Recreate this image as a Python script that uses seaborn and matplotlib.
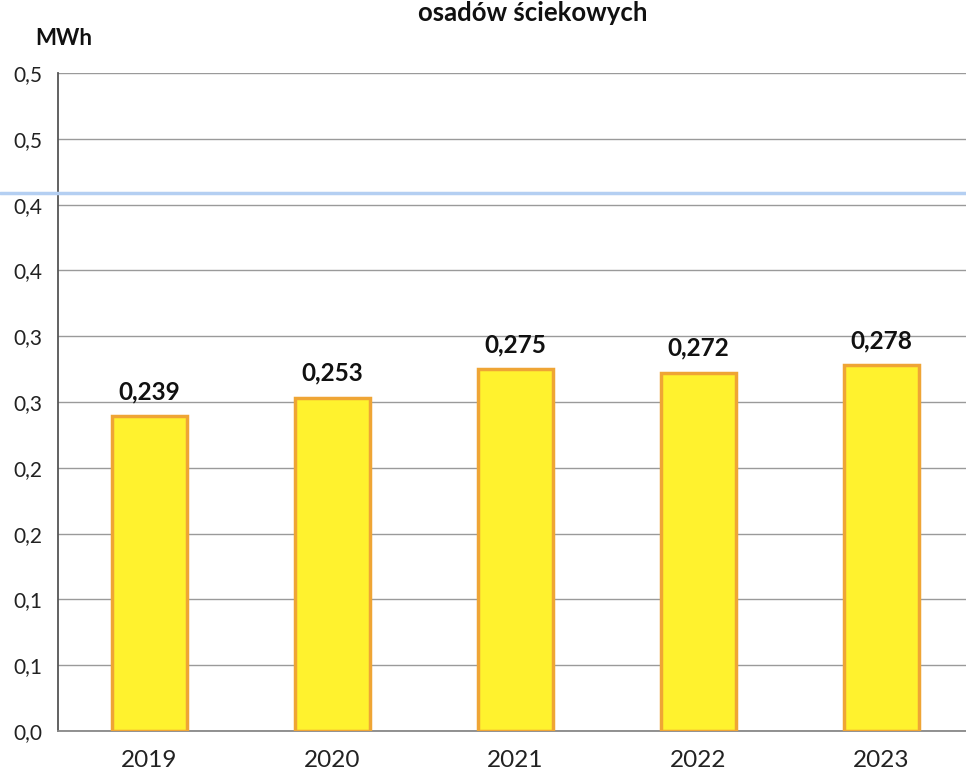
import numpy as np
import pandas as pd
import seaborn as sns
import matplotlib.pyplot as plt
from matplotlib.lines import Line2D

years = ["2019", "2020", "2021", "2022", "2023"]
values = [0.239, 0.253, 0.275, 0.272, 0.278]
value_labels = ["0,239", "0,253", "0,275", "0,272", "0,278"]
ytick_values = [0.0, 0.05, 0.10, 0.15, 0.20, 0.25, 0.30, 0.35, 0.40, 0.45, 0.50]
ytick_labels = ["0,0", "0,1", "0,1", "0,2", "0,2", "0,3", "0,3", "0,4", "0,4", "0,5", "0,5"]
title_text = "osadów ściekowych"
unit_text = "MWh"

sns.set_style("white")
plt.rcParams['font.family'] = ['Lato', 'DejaVu Sans']

df = pd.DataFrame({"year": years, "value": values})

fig = plt.figure(figsize=(9.66, 7.77), dpi=100)
ax = fig.add_axes([58 / 966, 1 - 731 / 777, 915 / 966, (731 - 73) / 777])

sns.barplot(data=df, x="year", y="value", color="#FFF22E", edgecolor="#EFA535",
            linewidth=2.5, width=0.415, saturation=1, ax=ax, zorder=3)

ax.set_xlim(-0.5, 4.5)
ax.set_ylim(0, 0.5)
ax.set_yticks(ytick_values)
ax.set_yticklabels(ytick_labels, fontsize=15, color="#222222")
ax.yaxis.grid(True, color="#9a9a9a", linewidth=1)
ax.set_axisbelow(True)

# category boundaries get the tick marks, labels sit in the middle
ax.set_xticks(range(len(years)))
ax.set_xticklabels(years, fontsize=17.5, color="#222222")
ax.set_xticks(np.arange(-0.5, len(years), 1), minor=True)
ax.tick_params(axis="x", which="major", length=0, pad=14)
ax.tick_params(axis="x", which="minor", length=8, width=1.2, color="#666666", direction="out")
ax.tick_params(axis="y", length=8, width=1.2, color="#666666", direction="out", pad=3)
ax.set_xlabel("")
ax.set_ylabel("")

for side in ["top", "right"]:
    ax.spines[side].set_visible(False)
ax.spines["left"].set_color("#555555")
ax.spines["left"].set_linewidth(1.3)
ax.spines["bottom"].set_color("#888888")
ax.spines["bottom"].set_linewidth(1.3)

for i, (v, lab) in enumerate(zip(values, value_labels)):
    ax.text(i, v + 0.010, lab, ha="center", va="bottom", fontsize=17.5,
            fontweight="bold", color="#111111")

fig.text(533 / 966, 1 - 21 / 777, title_text, ha="center", va="baseline",
         fontsize=18.5, fontweight="bold", color="#111111")
fig.text(35 / 966, 1 - 45 / 777, unit_text, ha="left", va="baseline",
         fontsize=16, fontweight="bold", color="#111111")

# light blue scan line across the page
fig.add_artist(Line2D([0, 1], [1 - 193 / 777] * 2, transform=fig.transFigure,
                      color="#B4CFF2", linewidth=2.5))

fig.savefig("out.png", dpi=100)
